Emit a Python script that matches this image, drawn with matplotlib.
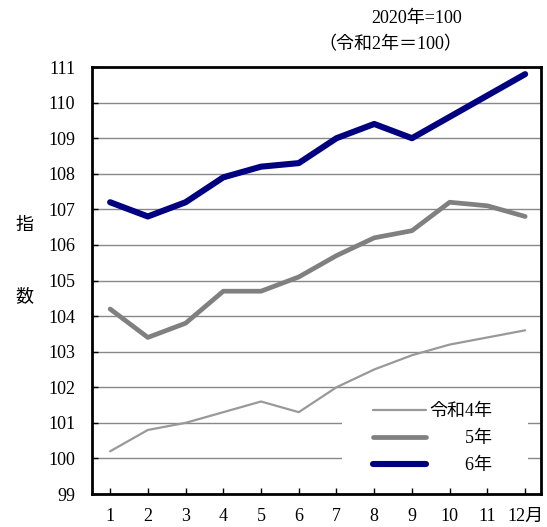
import matplotlib.pyplot as plt
import matplotlib.patches as mpatches
import numpy as np

plt.rcParams['font.family'] = ['Liberation Serif', 'Noto Sans CJK JP']

months = [1, 2, 3, 4, 5, 6, 7, 8, 9, 10, 11, 12]
month_labels = ['1', '2', '3', '4', '5', '6', '7', '8', '9', '10', '11', '12月']

r4 = [100.2, 100.8, 101.0, 101.3, 101.6, 101.3, 102.0, 102.5, 102.9, 103.2, 103.4, 103.6]
r5 = [104.2, 103.4, 103.8, 104.7, 104.7, 105.1, 105.7, 106.2, 106.4, 107.2, 107.1, 106.8]
r6 = [107.2, 106.8, 107.2, 107.9, 108.2, 108.3, 109.0, 109.4, 109.0, 109.6, 110.2, 110.8]

labels = ['令和4年', '\u3000\u30005年', '\u3000\u30006年']

fs = 13

fig = plt.figure(figsize=(5.47, 5.27), dpi=100)
ax = fig.add_axes([0.1682, 0.0626, 0.8208, 0.8102])

ax.plot(months, r4, color='#999999', lw=1.6, label=labels[0], solid_capstyle='round', zorder=3)
ax.plot(months, r5, color='#808080', lw=3.4, label=labels[1], solid_capstyle='round', zorder=3)
ax.plot(months, r6, color='#000080', lw=4.4, label=labels[2], solid_capstyle='round', zorder=3)

ax.set_ylim(99, 111)
ax.set_xlim(0.52, 12.42)
ax.set_yticks(np.arange(99, 112, 1))
ax.set_yticklabels([str(v) for v in range(99, 112)])
ax.set_xticks(months)
ax.set_xticklabels(month_labels)
ax.tick_params(axis='both', direction='in', length=4, width=1, labelsize=fs, colors='black')
ax.tick_params(axis='y', pad=12)
ax.tick_params(axis='x', pad=10)

for v in range(100, 111):
    ax.axhline(v, color='#888888', lw=1, zorder=0)

for s in ax.spines.values():
    s.set_linewidth(2)
    s.set_color('black')

# white background behind the legend (hides the gridlines)
ax.add_patch(mpatches.Rectangle((0.557, 0.0), 0.414, 0.232, transform=ax.transAxes,
                                facecolor='white', edgecolor='none', zorder=1))

leg = ax.legend(loc='center right', bbox_to_anchor=(0.912, 0.129), frameon=False,
                fontsize=fs, handlelength=2.9, labelspacing=0.55,
                borderpad=0, handletextpad=0.2)

fig.text(462 / 547, 1 - 18 / 527, '2020年=100', ha='right', va='center', fontsize=fs)
fig.text(462 / 547, 1 - 45 / 527, '（令和2年＝100）', ha='right', va='center', fontsize=fs)
fig.text(24 / 547, 1 - 225 / 527, '指', ha='center', va='center', fontsize=fs)
fig.text(24 / 547, 1 - 297 / 527, '数', ha='center', va='center', fontsize=fs)

fig.savefig('out.png', dpi=100)
